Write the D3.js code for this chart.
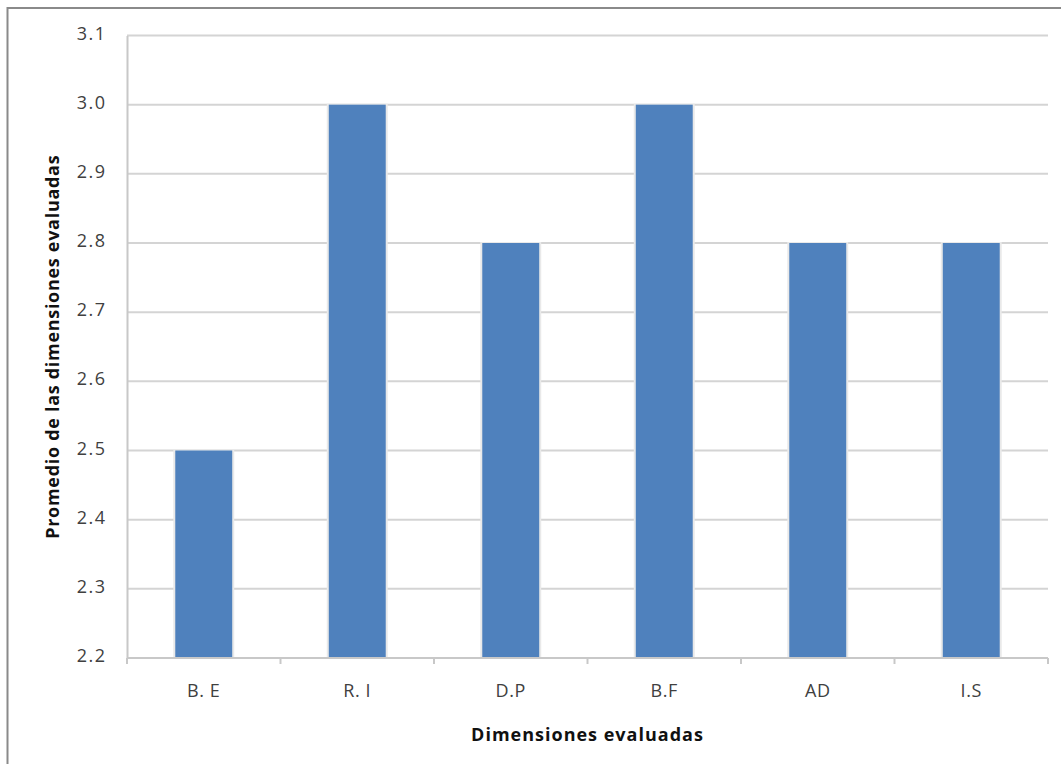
<!DOCTYPE html>
<html><head><meta charset="utf-8">
<script src="https://cdn.jsdelivr.net/npm/d3@7"></script>
<style>body{margin:0;background:#fff}svg{display:block}</style>
</head><body>
<script>
const categories = ["B. E", "R. I", "D.P", "B.F", "AD", "I.S"];
const values = [2.5, 3.0, 2.8, 3.0, 2.8, 2.8];
const yTicks = [2.2, 2.3, 2.4, 2.5, 2.6, 2.7, 2.8, 2.9, 3.0, 3.1];
const xTitle = "Dimensiones evaluadas";
const yTitle = "Promedio de las dimensiones evaluadas";

const W = 1061, H = 764;
const m = {left: 127, right: 1048, top: 35.5, bottom: 658};
const svg = d3.select("body").append("svg").attr("width", W).attr("height", H);
svg.append("rect").attr("x", 0).attr("y", 0).attr("width", W).attr("height", H).attr("fill", "#fff");
// outer frame
svg.append("rect").attr("x", 7.5).attr("y", 8).attr("width", W + 20).attr("height", H + 20)
  .attr("fill", "none").attr("stroke", "#8a8a8a").attr("stroke-width", 2);

const x = d3.scaleBand().domain(categories).range([m.left, m.right]).paddingInner(0.629).paddingOuter(0.3145);
const xb = d3.scaleBand().domain(categories).range([m.left, m.right]);
const y = d3.scaleLinear().domain([2.2, 3.1]).range([m.bottom, m.top]);
const font = "'Open Sans', sans-serif";

// gridlines
svg.append("g").selectAll("line").data(yTicks.slice(1)).join("line")
  .attr("x1", m.left).attr("x2", m.right).attr("y1", d => y(d)).attr("y2", d => y(d))
  .attr("stroke", "#d4d4d4").attr("stroke-width", 2);

// y axis
const ya = svg.append("g").attr("transform", `translate(${m.left},0)`)
  .call(d3.axisLeft(y).tickValues(yTicks).tickFormat(d3.format(".1f")).tickSize(0).tickPadding(20.5));
ya.select(".domain").attr("stroke", "#c8c8c8").attr("stroke-width", 2);
ya.selectAll("text").attr("font-family", font).attr("font-size", 18).attr("letter-spacing", 1.5)
  .attr("fill", "#404040").attr("dy", "0.2em");

// bars
svg.append("g").selectAll("rect").data(values).join("rect")
  .attr("x", (d, i) => x(categories[i]) - 2).attr("y", d => y(d) - 1)
  .attr("width", x.bandwidth() + 4).attr("height", d => m.bottom - y(d) + 1)
  .attr("fill", "#e9e9e9");
svg.append("g").selectAll("rect").data(values).join("rect")
  .attr("x", (d, i) => x(categories[i])).attr("y", d => y(d))
  .attr("width", x.bandwidth()).attr("height", d => m.bottom - y(d))
  .attr("fill", "#4f81bd");

// x axis
const xa = svg.append("g").attr("transform", `translate(0,${m.bottom})`);
xa.append("line").attr("x1", m.left).attr("x2", m.right).attr("stroke", "#c8c8c8").attr("stroke-width", 2);
xa.selectAll("line.t").data(d3.range(categories.length + 1)).join("line").attr("class", "t")
  .attr("x1", i => m.left + i * xb.step()).attr("x2", i => m.left + i * xb.step())
  .attr("y1", 0).attr("y2", 6).attr("stroke", "#c8c8c8").attr("stroke-width", 2);
xa.selectAll("text").data(categories).join("text")
  .attr("x", d => xb(d) + xb.bandwidth() / 2).attr("y", 39)
  .attr("text-anchor", "middle").attr("font-family", font).attr("font-size", 18).attr("letter-spacing", 0.6)
  .attr("fill", "#404040").text(d => d);

// titles
svg.append("text").attr("x", (m.left + m.right) / 2).attr("y", 741).attr("text-anchor", "middle")
  .attr("font-family", font).attr("font-weight", "bold").attr("font-size", 18).attr("letter-spacing", 1)
  .attr("fill", "#111").text(xTitle);
svg.append("text").attr("transform", `translate(59,${(m.top + m.bottom) / 2}) rotate(-90)`).attr("text-anchor", "middle")
  .attr("font-family", font).attr("font-weight", "bold").attr("font-size", 18).attr("letter-spacing", 0.7)
  .attr("fill", "#111").text(yTitle);
</script>
</body></html>
